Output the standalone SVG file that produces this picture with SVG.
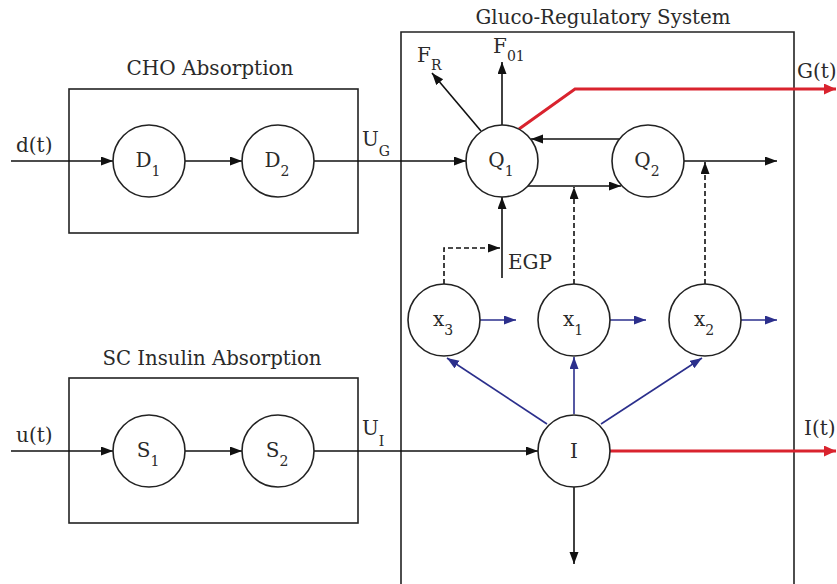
<svg xmlns="http://www.w3.org/2000/svg" width="837" height="584" viewBox="0 0 837 584">
<defs>
<marker id="ab" markerUnits="userSpaceOnUse" markerWidth="13" markerHeight="10" refX="12" refY="4.5" orient="auto"><path d="M0,0 L12,4.5 L0,9 z" fill="#111"/></marker>
<marker id="au" markerUnits="userSpaceOnUse" markerWidth="13" markerHeight="10" refX="12" refY="4.5" orient="auto"><path d="M0,0 L12,4.5 L0,9 z" fill="#2b2f8c"/></marker>
<marker id="ar" markerUnits="userSpaceOnUse" markerWidth="13" markerHeight="12" refX="12" refY="5.5" orient="auto"><path d="M0,0 L12,5.5 L0,11 z" fill="#d9232e"/></marker>
<style>
text{fill:#2a2a2a;font-family:"DejaVu Serif",serif;}
.t{font-size:21px;text-anchor:middle;}
.l{font-size:20px;}
.n{font-size:20px;text-anchor:middle;}
.s{font-size:14px;}
.box{fill:none;stroke:#222;stroke-width:1.6;}
.c{fill:#fff;stroke:#222;stroke-width:1.6;}
.k{fill:none;stroke:#111;stroke-width:1.6;marker-end:url(#ab);}
.dm{fill:none;stroke:#111;stroke-width:1.6;stroke-dasharray:5,3;marker-end:url(#ab);}
.b{fill:none;stroke:#2b2f8c;stroke-width:1.6;marker-end:url(#au);}
.r{fill:none;stroke:#d9232e;stroke-width:3;marker-end:url(#ar);}
</style>
</defs>
<rect x="0" y="0" width="837" height="584" fill="#fff"/>

<g id="cho-box">
<rect class="box" x="69" y="89" width="289" height="144"/>
<text class="t" x="210" y="75" textLength="167" lengthAdjust="spacingAndGlyphs">CHO Absorption</text>
</g>
<g id="sc-box">
<rect class="box" x="69" y="378" width="289" height="145"/>
<text class="t" x="212" y="365" textLength="219" lengthAdjust="spacingAndGlyphs">SC Insulin Absorption</text>
</g>
<g id="gluco-box">
<path class="box" d="M401,590 L401,32 L794,32 L794,590"/>
<text class="t" x="603" y="24" textLength="255" lengthAdjust="spacingAndGlyphs">Gluco-Regulatory System</text>
</g>

<g id="connectors">
<path class="k" d="M11,161 L113,161"/>
<path class="k" d="M185,161 L242,161"/>
<path class="k" d="M314,161 L466,161"/>
<path class="k" d="M11,451 L113,451"/>
<path class="k" d="M185,451 L242,451"/>
<path class="k" d="M314,451 L538,451"/>
<path class="k" d="M502,125 L502,62"/>
<path class="k" d="M481,131 L432,73"/>
<path class="k" d="M620,139 L531,139"/>
<path class="k" d="M528,186 L621,186"/>
<path class="k" d="M684,161 L777,161"/>
<path class="k" d="M502,278 L502,197"/>
<path class="dm" d="M444,284 L444,248 L500,248"/>
<path class="dm" d="M574,284 L574,187"/>
<path class="dm" d="M705,284 L705,162"/>
<path class="b" d="M480,320 L516,320"/>
<path class="b" d="M610,320 L646,320"/>
<path class="b" d="M741,320 L777,320"/>
<path class="b" d="M547,424 L447,358"/>
<path class="b" d="M574,414 L574,357"/>
<path class="b" d="M601,424 L702,358"/>
<path class="k" d="M574,487 L574,564"/>
<path class="r" d="M519,129 L575,89 L836,89"/>
<path class="r" d="M610,451 L836,451"/>
</g>

<g id="labels">
<text class="l" x="16" y="152">d(t)</text>
<text class="l" x="16" y="442">u(t)</text>
<text class="l" x="362" y="146">U<tspan class="s" dy="10">G</tspan></text>
<text class="l" x="362" y="435">U<tspan class="s" dy="11">I</tspan></text>
<text class="l" x="493" y="53">F<tspan class="s" dy="8">01</tspan></text>
<text class="l" x="417" y="62">F<tspan class="s" dy="8">R</tspan></text>
<text class="l" x="508" y="269">EGP</text>
<text class="l" x="797" y="78">G(t)</text>
<text class="l" x="804" y="435">I(t)</text>
</g>

<g id="D1"><circle class="c" cx="149" cy="161" r="36"/><text class="n" x="148" y="167">D<tspan class="s" dy="9">1</tspan></text></g>
<g id="D2"><circle class="c" cx="278" cy="161" r="36"/><text class="n" x="277" y="167">D<tspan class="s" dy="9">2</tspan></text></g>
<g id="S1"><circle class="c" cx="149" cy="451" r="36"/><text class="n" x="148" y="457">S<tspan class="s" dy="9">1</tspan></text></g>
<g id="S2"><circle class="c" cx="278" cy="451" r="36"/><text class="n" x="277" y="457">S<tspan class="s" dy="9">2</tspan></text></g>
<g id="Q1"><circle class="c" cx="502" cy="161" r="36"/><text class="n" x="501" y="167">Q<tspan class="s" dy="9">1</tspan></text></g>
<g id="Q2"><circle class="c" cx="648" cy="161" r="36"/><text class="n" x="647" y="167">Q<tspan class="s" dy="9">2</tspan></text></g>
<g id="x3"><circle class="c" cx="444" cy="320" r="36"/><text class="n" x="443" y="326">x<tspan class="s" dy="9">3</tspan></text></g>
<g id="x1"><circle class="c" cx="574" cy="320" r="36"/><text class="n" x="573" y="326">x<tspan class="s" dy="9">1</tspan></text></g>
<g id="x2"><circle class="c" cx="705" cy="320" r="36"/><text class="n" x="704" y="326">x<tspan class="s" dy="9">2</tspan></text></g>
<g id="I"><circle class="c" cx="574" cy="451" r="36"/><text class="n" x="574" y="458">I</text></g>
</svg>
